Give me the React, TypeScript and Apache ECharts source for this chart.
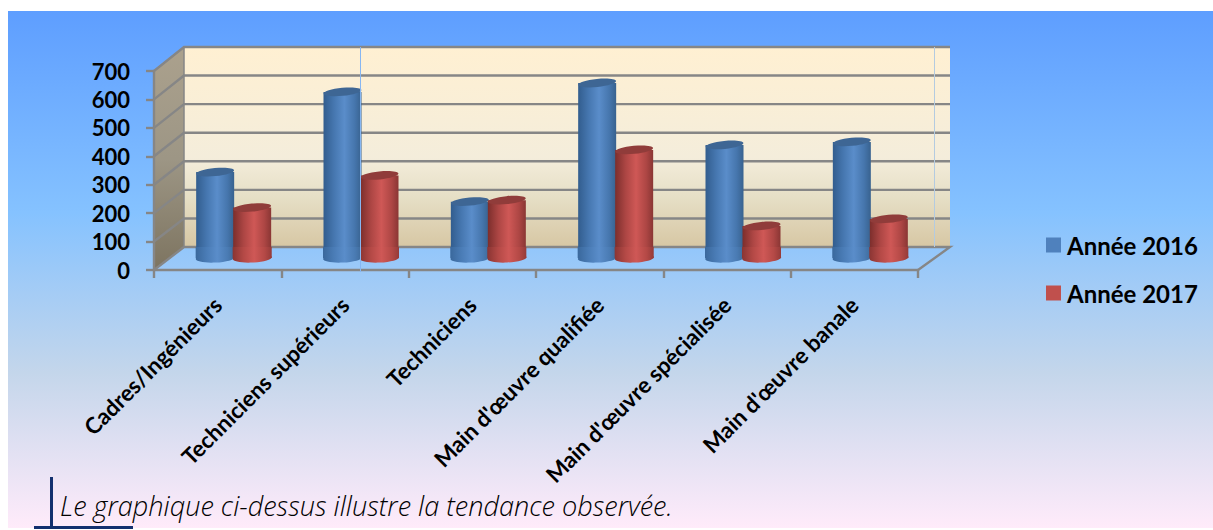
import React, { useEffect, useRef } from "react";
import * as echarts from "echarts";

const categories = [
  "Cadres/Ingénieurs",
  "Techniciens supérieurs",
  "Techniciens",
  "Main d'œuvre qualifiée",
  "Main d'œuvre spécialisée",
  "Main d'œuvre banale",
];
const values2016 = [304, 586, 200, 617, 399, 410];
const values2017 = [179, 292, 205, 382, 114, 139];
const yTicks = [0, 100, 200, 300, 400, 500, 600, 700];
const seriesNames = ["Année 2016", "Année 2017"];
const caption = "Le graphique ci-dessus illustre la tendance observée.";

const LG = echarts.graphic.LinearGradient;
const GRID = "#868686";

function shade(c: string[]) {
  return new LG(0, 0, 1, 0, [
    { offset: 0, color: c[0] },
    { offset: 0.28, color: c[1] },
    { offset: 0.55, color: c[2] },
    { offset: 0.82, color: c[3] },
    { offset: 1, color: c[4] },
  ]);
}

function cylinder(upper: string[], lower: string[], top: string, side: number) {
  const body = shade(upper);
  const low = shade(lower);
  return (params: any, api: any) => {
    const cat = api.value(0);
    const v = api.value(1);
    const base = api.coord([cat, 0]);
    const head = api.coord([cat, v]);
    const rx = 19;
    const ry = 4;
    const cx = base[0] + 16 + side * 18.5;
    const by = base[1] - 12;
    const ty = head[1] - 11.5;
    const wall = base[1] - 23;
    const tilt = 0.1;
    const children: any[] = [
      { type: "rect", shape: { x: cx - rx, y: ty, width: rx * 2, height: by - ty }, style: { fill: body } },
      { type: "ellipse", shape: { cx, cy: ty, rx, ry }, rotation: tilt, originX: cx, originY: ty, style: { fill: top } },
    ];
    children.push(
      { type: "ellipse", shape: { cx, cy: by, rx: rx + 0.5, ry: ry + 0.5 }, rotation: 0.05, originX: cx, originY: by, style: { fill: low } },
      { type: "rect", shape: { x: cx - rx - 0.5, y: Math.max(wall, ty + 2), width: rx * 2 + 1, height: by - Math.max(wall, ty + 2) }, style: { fill: low } }
    );
    return { type: "group", silent: true, children };
  };
}

function backY(coordY: number, v: number) {
  return coordY - 23 - v / 700;
}

function renderWalls(params: any, api: any) {
  const c = params.coordSys;
  const x0 = c.x;
  const x1 = c.x + c.width;
  const yB = c.y + c.height;
  const yT = c.y;
  const bxL = x0 + 30;
  const bxR = x1 + 32;
  return {
    type: "group",
    silent: true,
    children: [
      {
        type: "polygon",
        shape: { points: [[x0, yT], [bxL, yT - 24], [bxL, yB - 23], [x0, yB]] },
        style: {
          fill: new LG(0, 0, 0, 1, [
            { offset: 0, color: "#aba18d" },
            { offset: 0.5, color: "#9d9685" },
            { offset: 1, color: "#7d7460" },
          ]),
        },
      },
      {
        type: "rect",
        shape: { x: bxL, y: yT - 24, width: bxR - bxL, height: c.height + 1 },
        style: {
          fill: new LG(0, 0, 0, 1, [
            { offset: 0, color: "#fff0d2" },
            { offset: 0.55, color: "#f4eddb" },
            { offset: 0.75, color: "#e6dfc6" },
            { offset: 1, color: "#d7c7a4" },
          ]),
        },
      },
      {
        type: "polyline",
        shape: { points: [[x0, yB], [bxL, yB - 23], [bxR, yB - 23], [x1, yB]] },
        style: { stroke: GRID, lineWidth: 2.4, fill: "none" },
      },
      {
        type: "line",
        shape: { x1: bxL, y1: yT - 24, x2: bxL, y2: yB - 23 },
        style: { stroke: GRID, lineWidth: 1.5 },
      },
    ],
  };
}

function renderGridline(params: any, api: any) {
  const c = params.coordSys;
  const p = api.coord([0, api.value(1)]);
  const by = backY(p[1], api.value(1));
  return {
    type: "polyline",
    silent: true,
    shape: { points: [[c.x, p[1]], [c.x + 30, by], [c.x + c.width + 32, by]] },
    style: { stroke: GRID, lineWidth: 2.4, fill: "none" },
  };
}

export default function App() {
  const ref = useRef<HTMLDivElement>(null);
  useEffect(() => {
    const chart = echarts.init(ref.current!, undefined, { renderer: "svg" });
    chart.setOption({
      animation: false,
      tooltip: { show: false },
      grid: { left: 154, top: 71, width: 764, height: 199, containLabel: false },
      xAxis: {
        type: "category",
        data: categories,
        z: 3,
        axisLine: { lineStyle: { color: GRID, width: 2.4 } },
        axisTick: { show: true, length: 8, lineStyle: { color: GRID, width: 2.4 } },
        axisLabel: {
          interval: 0,
          rotate: 45,
          margin: 31,
          fontFamily: "Lato",
          fontWeight: "bold",
          fontSize: 22.5,
          color: "#000",
        },
      },
      yAxis: {
        type: "value",
        min: 0,
        max: 700,
        interval: 100,
        z: 3,
        axisLine: { show: true, lineStyle: { color: GRID, width: 2.4 } },
        axisTick: { show: true, length: 8, lineStyle: { color: GRID, width: 2.4 } },
        splitLine: { show: false },
        axisLabel: {
          margin: 24,
          fontFamily: "Lato",
          fontWeight: "bold",
          fontSize: 22,
          color: "#000",
        },
      },
      legend: {
        show: true,
        left: 1046,
        top: 232,
        padding: 0,
        orient: "vertical",
        icon: "rect",
        itemWidth: 15,
        itemHeight: 15,
        itemGap: 22,
        data: seriesNames,
        textStyle: { fontFamily: "Lato", fontWeight: "bold", fontSize: 24, color: "#000", padding: [0, 0, 0, 1], lineHeight: 26 },
      },
      graphic: [
        {
          type: "rect",
          z: -10,
          silent: true,
          shape: { x: 8, y: 11, width: 1205, height: 517 },
          style: {
            fill: new LG(0, 0, 0, 1, [
              { offset: 0, color: "#5E9EFF" },
              { offset: 0.39, color: "#85C2FF" },
              { offset: 0.7, color: "#C4D6EB" },
              { offset: 1, color: "#FFEBFA" },
            ]),
          },
        },
        { type: "line", z: 10, silent: true, shape: { x1: 360.5, y1: 47, x2: 360.5, y2: 272 }, style: { stroke: "#86b6f2", lineWidth: 1 } },
        { type: "line", z: 10, silent: true, shape: { x1: 934.5, y1: 47, x2: 934.5, y2: 247 }, style: { stroke: "#b4cbe0", lineWidth: 1 } },
        { type: "rect", z: 10, silent: true, shape: { x: 50, y: 477, width: 3, height: 51 }, style: { fill: "#13306f" } },
        { type: "rect", z: 10, silent: true, shape: { x: 34, y: 526, width: 99, height: 3 }, style: { fill: "#13306f" } },
        {
          type: "text",
          z: 10,
          silent: true,
          x: 60,
          y: 505,
          style: {
            text: caption,
            fontFamily: "Open Sans",
            fontStyle: "italic",
            fontWeight: 300,
            fontSize: 27.1,
            fill: "#000",
            verticalAlign: "middle",
          },
        },
      ],
      series: [
        {
          name: "walls",
          type: "custom",
          z: 1,
          clip: false,
          silent: true,
          renderItem: renderWalls,
          encode: { x: 0, y: 1 },
          data: [[0, 0]],
        },
        {
          name: "gridlines",
          type: "custom",
          z: 1.5,
          clip: false,
          silent: true,
          renderItem: renderGridline,
          encode: { x: 0, y: 1 },
          data: yTicks.slice(1).map((t) => [0, t]),
        },
        {
          name: seriesNames[0],
          type: "custom",
          z: 2,
          clip: false,
          silent: true,
          itemStyle: { color: "#4F81BD" },
          renderItem: cylinder(
            ["#325d8e", "#4677b0", "#5a8dca", "#4676ad", "#38628f"],
            ["#3a689c", "#4a7cb6", "#5a8dca", "#4a7bb3", "#3e6a99"],
            "#3e6694",
            -1
          ),
          encode: { x: 0, y: 1 },
          data: values2016.map((v, i) => [i, v]),
        },
        {
          name: seriesNames[1],
          type: "custom",
          z: 2.1,
          clip: false,
          silent: true,
          itemStyle: { color: "#C0504D" },
          renderItem: cylinder(
            ["#7c2e2c", "#ad4644", "#cf5856", "#ad4644", "#8a3634"],
            ["#8a3533", "#b44946", "#cf5856", "#b44946", "#953b39"],
            "#903c3a",
            1
          ),
          encode: { x: 0, y: 1 },
          data: values2017.map((v, i) => [i, v]),
        },
      ],
    });
    return () => chart.dispose();
  }, []);
  return <div ref={ref} style={{ position: "absolute", left: 0, top: 0, width: 1213, height: 530 }} />;
}
